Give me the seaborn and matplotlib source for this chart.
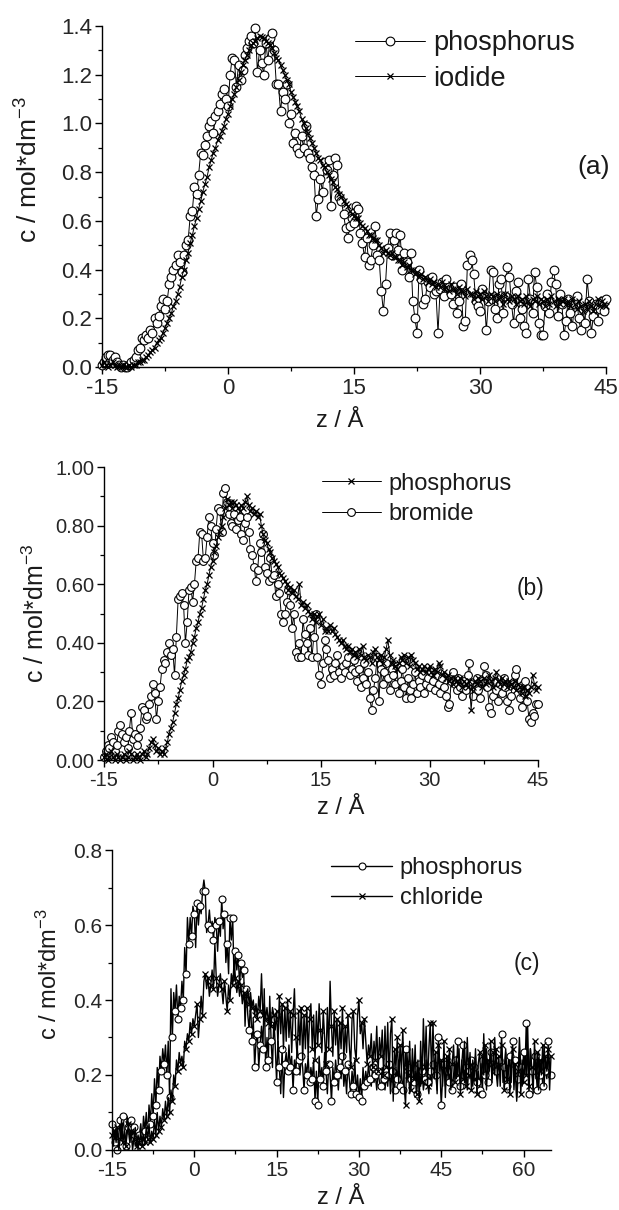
import numpy as np
import matplotlib
matplotlib.use("Agg")
import matplotlib.pyplot as plt
import seaborn as sns
from matplotlib.ticker import MultipleLocator, FormatStrFormatter

# ---------------- data ----------------
# sampling grid of z (Angstrom) for each panel
z_start = -15.0
z_step = 0.25
z_end_ab = 45.0
z_end_c = 65.0

# panel (a)
phosphorus_a = [
    0.01, 0.02, 0.04, 0.05, 0.05, 0.03, 0.04, 0.02, 0.01, 0.00, 0.01, 0.00, 0.00, 0.01, 0.02, 0.03, 0.04, 0.07, 0.08, 0.12,
    0.11, 0.13, 0.12, 0.15, 0.14, 0.20, 0.18, 0.21, 0.25, 0.28, 0.24, 0.27, 0.34, 0.37, 0.40, 0.42, 0.46, 0.43, 0.39, 0.46,
    0.50, 0.52, 0.62, 0.64, 0.74, 0.71, 0.79, 0.88, 0.87, 0.91, 0.95, 0.99, 1.01, 0.96, 1.03, 1.05, 1.08, 1.12, 1.14, 1.10,
    1.07, 1.20, 1.27, 1.26, 1.15, 1.24, 1.18, 1.22, 1.28, 1.31, 1.34, 1.36, 1.33, 1.39, 1.21, 1.30, 1.25, 1.20, 1.33, 1.26,
    1.35, 1.37, 1.30, 1.16, 1.16, 1.05, 1.13, 1.10, 1.16, 1.00, 1.04, 0.92, 0.96, 0.90, 0.88, 0.95, 0.90, 0.99, 0.88, 0.86,
    0.82, 0.79, 0.62, 0.69, 0.77, 0.72, 0.84, 0.81, 0.85, 0.66, 0.79, 0.86, 0.83, 0.70, 0.68, 0.63, 0.57, 0.53, 0.58, 0.61,
    0.59, 0.66, 0.65, 0.55, 0.51, 0.45, 0.53, 0.42, 0.44, 0.50, 0.58, 0.46, 0.44, 0.31, 0.23, 0.34, 0.49, 0.55, 0.46, 0.52,
    0.55, 0.48, 0.54, 0.40, 0.47, 0.43, 0.37, 0.47, 0.27, 0.20, 0.14, 0.40, 0.36, 0.26, 0.28, 0.35, 0.33, 0.37, 0.30, 0.31,
    0.14, 0.32, 0.35, 0.29, 0.36, 0.33, 0.30, 0.26, 0.33, 0.22, 0.27, 0.34, 0.17, 0.19, 0.42, 0.46, 0.44, 0.38, 0.27, 0.25,
    0.23, 0.32, 0.29, 0.15, 0.27, 0.40, 0.39, 0.24, 0.20, 0.34, 0.36, 0.22, 0.29, 0.41, 0.37, 0.26, 0.18, 0.31, 0.35, 0.20,
    0.24, 0.17, 0.14, 0.36, 0.28, 0.22, 0.39, 0.33, 0.18, 0.13, 0.13, 0.25, 0.30, 0.22, 0.35, 0.40, 0.34, 0.21, 0.30, 0.26,
    0.13, 0.19, 0.28, 0.22, 0.17, 0.26, 0.29, 0.20, 0.15, 0.24, 0.18, 0.36, 0.27, 0.14, 0.21, 0.26, 0.19, 0.24, 0.27, 0.23,
    0.28,
]
iodide_a = [
    0.01, 0.02, 0.01, 0.00, 0.01, 0.02, 0.01, 0.00, 0.01, 0.00, 0.01, 0.00, 0.00, 0.01, 0.00, 0.01, 0.01, 0.02, 0.02, 0.03,
    0.03, 0.04, 0.05, 0.06, 0.07, 0.08, 0.10, 0.11, 0.12, 0.14, 0.16, 0.18, 0.20, 0.22, 0.25, 0.27, 0.30, 0.33, 0.37, 0.40,
    0.44, 0.47, 0.51, 0.54, 0.58, 0.61, 0.65, 0.68, 0.72, 0.75, 0.78, 0.82, 0.85, 0.88, 0.90, 0.93, 0.95, 0.97, 0.99, 1.02,
    1.04, 1.07, 1.10, 1.12, 1.15, 1.18, 1.21, 1.24, 1.26, 1.28, 1.30, 1.32, 1.33, 1.34, 1.35, 1.36, 1.355, 1.35, 1.34, 1.33,
    1.32, 1.31, 1.29, 1.27, 1.26, 1.24, 1.22, 1.20, 1.18, 1.16, 1.13, 1.11, 1.09, 1.07, 1.05, 1.02, 1.00, 0.98, 0.96, 0.94,
    0.92, 0.90, 0.88, 0.86, 0.85, 0.83, 0.82, 0.80, 0.79, 0.77, 0.76, 0.74, 0.73, 0.71, 0.70, 0.68, 0.67, 0.66, 0.64, 0.63,
    0.62, 0.61, 0.61, 0.59, 0.58, 0.57, 0.56, 0.54, 0.54, 0.53, 0.52, 0.52, 0.50, 0.49, 0.47, 0.48, 0.47, 0.46, 0.47, 0.45,
    0.45, 0.44, 0.44, 0.42, 0.43, 0.41, 0.42, 0.40, 0.40, 0.38, 0.39, 0.37, 0.38, 0.36, 0.37, 0.35, 0.36, 0.34, 0.35, 0.33,
    0.34, 0.33, 0.35, 0.32, 0.33, 0.31, 0.34, 0.32, 0.32, 0.30, 0.33, 0.31, 0.31, 0.29, 0.32, 0.30, 0.30, 0.28, 0.31, 0.29,
    0.30, 0.28, 0.31, 0.29, 0.27, 0.30, 0.29, 0.27, 0.30, 0.28, 0.29, 0.26, 0.30, 0.28, 0.27, 0.29, 0.28, 0.26, 0.29, 0.27,
    0.28, 0.26, 0.29, 0.27, 0.25, 0.28, 0.27, 0.29, 0.26, 0.28, 0.27, 0.25, 0.28, 0.26, 0.29, 0.27, 0.25, 0.28, 0.26, 0.27,
    0.28, 0.26, 0.27, 0.25, 0.28, 0.26, 0.24, 0.27, 0.25, 0.23, 0.26, 0.24, 0.27, 0.25, 0.23, 0.26, 0.28, 0.25, 0.27, 0.26,
    0.25,
]

# panel (b)
phosphorus_b = [
    0.01, 0.02, 0.00, 0.01, 0.03, 0.01, 0.00, 0.02, 0.01, 0.00, 0.01, 0.02, 0.00, 0.01, 0.03, 0.02, 0.00, 0.01, 0.02, 0.01,
    0.00, 0.02, 0.03, 0.01, 0.02, 0.04, 0.06, 0.07, 0.05, 0.03, 0.04, 0.02, 0.03, 0.02, 0.04, 0.06, 0.09, 0.11, 0.13, 0.16,
    0.19, 0.21, 0.24, 0.27, 0.29, 0.31, 0.34, 0.35, 0.37, 0.40, 0.42, 0.45, 0.47, 0.50, 0.52, 0.55, 0.58, 0.60, 0.63, 0.66,
    0.68, 0.71, 0.73, 0.76, 0.78, 0.80, 0.83, 0.86, 0.89, 0.87, 0.88, 0.86, 0.88, 0.87, 0.86, 0.85, 0.87, 0.86, 0.88, 0.90,
    0.87, 0.85, 0.86, 0.84, 0.85, 0.83, 0.84, 0.80, 0.77, 0.75, 0.74, 0.72, 0.71, 0.69, 0.68, 0.67, 0.66, 0.64, 0.63, 0.62,
    0.61, 0.60, 0.58, 0.59, 0.57, 0.58, 0.56, 0.55, 0.60, 0.53, 0.54, 0.52, 0.53, 0.51, 0.50, 0.48, 0.50, 0.47, 0.49, 0.50,
    0.46, 0.48, 0.44, 0.45, 0.44, 0.46, 0.44, 0.45, 0.43, 0.42, 0.41, 0.40, 0.41, 0.39, 0.38, 0.39, 0.37, 0.38, 0.36, 0.37,
    0.35, 0.38, 0.36, 0.39, 0.35, 0.34, 0.36, 0.35, 0.33, 0.37, 0.38, 0.35, 0.34, 0.36, 0.33, 0.35, 0.38, 0.41, 0.36, 0.33,
    0.34, 0.32, 0.31, 0.33, 0.35, 0.34, 0.36, 0.33, 0.35, 0.32, 0.36, 0.34, 0.33, 0.31, 0.32, 0.30, 0.31, 0.32, 0.30, 0.31,
    0.32, 0.30, 0.29, 0.31, 0.30, 0.33, 0.32, 0.29, 0.30, 0.28, 0.29, 0.27, 0.28, 0.26, 0.28, 0.27, 0.26, 0.28, 0.25, 0.27,
    0.26, 0.25, 0.27, 0.17, 0.25, 0.27, 0.26, 0.28, 0.27, 0.25, 0.28, 0.26, 0.27, 0.29, 0.27, 0.25, 0.28, 0.30, 0.27, 0.26,
    0.28, 0.26, 0.27, 0.25, 0.27, 0.26, 0.25, 0.27, 0.24, 0.26, 0.25, 0.23, 0.25, 0.22, 0.24, 0.23, 0.25, 0.29, 0.26, 0.24,
    0.25,
]
bromide_b = [
    0.01, 0.03, 0.05, 0.04, 0.08, 0.06, 0.03, 0.05, 0.10, 0.12, 0.09, 0.06, 0.08, 0.04, 0.10, 0.16, 0.07, 0.09, 0.05, 0.08,
    0.11, 0.18, 0.17, 0.14, 0.15, 0.19, 0.22, 0.26, 0.23, 0.14, 0.20, 0.25, 0.31, 0.34, 0.33, 0.37, 0.40, 0.36, 0.38, 0.29,
    0.42, 0.55, 0.56, 0.57, 0.53, 0.40, 0.47, 0.58, 0.59, 0.54, 0.60, 0.68, 0.69, 0.78, 0.77, 0.68, 0.69, 0.76, 0.83, 0.80,
    0.74, 0.70, 0.79, 0.86, 0.85, 0.78, 0.91, 0.93, 0.88, 0.84, 0.81, 0.80, 0.84, 0.79, 0.82, 0.83, 0.77, 0.75, 0.81, 0.83,
    0.78, 0.72, 0.70, 0.66, 0.61, 0.65, 0.74, 0.71, 0.77, 0.66, 0.64, 0.61, 0.69, 0.62, 0.63, 0.56, 0.60, 0.57, 0.50, 0.47,
    0.50, 0.54, 0.58, 0.53, 0.45, 0.50, 0.37, 0.35, 0.40, 0.35, 0.48, 0.43, 0.40, 0.36, 0.45, 0.35, 0.42, 0.50, 0.35, 0.29,
    0.26, 0.33, 0.41, 0.38, 0.34, 0.28, 0.31, 0.29, 0.33, 0.36, 0.30, 0.28, 0.32, 0.30, 0.33, 0.35, 0.29, 0.31, 0.34, 0.30,
    0.27, 0.31, 0.25, 0.28, 0.33, 0.26, 0.30, 0.21, 0.17, 0.24, 0.28, 0.35, 0.20, 0.31, 0.26, 0.30, 0.33, 0.28, 0.24, 0.31,
    0.29, 0.26, 0.32, 0.23, 0.27, 0.31, 0.25, 0.21, 0.28, 0.24, 0.21, 0.26, 0.30, 0.23, 0.27, 0.25, 0.29, 0.23, 0.26, 0.28,
    0.25, 0.30, 0.27, 0.24, 0.29, 0.26, 0.23, 0.28, 0.25, 0.22, 0.18, 0.19, 0.27, 0.30, 0.26, 0.24, 0.28, 0.25, 0.22, 0.27,
    0.24, 0.29, 0.33, 0.26, 0.22, 0.25, 0.28, 0.24, 0.21, 0.27, 0.32, 0.29, 0.25, 0.18, 0.16, 0.22, 0.27, 0.24, 0.20, 0.26,
    0.23, 0.28, 0.25, 0.20, 0.17, 0.22, 0.26, 0.29, 0.31, 0.25, 0.21, 0.18, 0.23, 0.27, 0.20, 0.14, 0.13, 0.16, 0.15, 0.19,
    0.19,
]

# panel (c)
phosphorus_c = [
    0.07, 0.05, 0.02, 0.06, 0.00, 0.04, 0.08, 0.03, 0.09, 0.05, 0.01, 0.09, 0.06, 0.02, 0.08, 0.04, 0.06, 0.01, 0.03, 0.00,
    0.04, 0.07, 0.02, 0.09, 0.05, 0.10, 0.03, 0.12, 0.07, 0.15, 0.09, 0.19, 0.12, 0.22, 0.16, 0.25, 0.21, 0.27, 0.23, 0.28,
    0.20, 0.29, 0.14, 0.43, 0.30, 0.42, 0.37, 0.44, 0.35, 0.41, 0.38, 0.45, 0.40, 0.54, 0.47, 0.62, 0.55, 0.62, 0.57, 0.65,
    0.63, 0.54, 0.66, 0.60, 0.65, 0.63, 0.69, 0.72, 0.69, 0.58, 0.60, 0.64, 0.59, 0.61, 0.56, 0.62, 0.60, 0.53, 0.61, 0.57,
    0.67, 0.59, 0.63, 0.50, 0.55, 0.47, 0.62, 0.56, 0.62, 0.45, 0.53, 0.48, 0.52, 0.44, 0.50, 0.46, 0.48, 0.33, 0.43, 0.36,
    0.32, 0.40, 0.29, 0.35, 0.22, 0.29, 0.31, 0.22, 0.28, 0.33, 0.27, 0.43, 0.22, 0.30, 0.24, 0.41, 0.29, 0.22, 0.35, 0.28,
    0.18, 0.29, 0.22, 0.15, 0.27, 0.14, 0.23, 0.26, 0.21, 0.28, 0.22, 0.25, 0.16, 0.24, 0.21, 0.27, 0.24, 0.20, 0.25, 0.22,
    0.16, 0.23, 0.20, 0.25, 0.18, 0.22, 0.19, 0.24, 0.13, 0.21, 0.12, 0.25, 0.19, 0.22, 0.17, 0.26, 0.21, 0.15, 0.23, 0.20,
    0.13, 0.22, 0.18, 0.24, 0.20, 0.16, 0.22, 0.19, 0.25, 0.17, 0.21, 0.15, 0.23, 0.19, 0.15, 0.21, 0.17, 0.24, 0.15, 0.20,
    0.14, 0.19, 0.13, 0.22, 0.17, 0.21, 0.18, 0.23, 0.19, 0.17, 0.22, 0.18, 0.20, 0.16, 0.21, 0.18, 0.17, 0.22, 0.19, 0.16,
    0.20, 0.17, 0.23, 0.15, 0.21, 0.18, 0.16, 0.22, 0.19, 0.24, 0.17, 0.21, 0.16, 0.20, 0.27, 0.18, 0.22, 0.15, 0.19, 0.24,
    0.18, 0.21, 0.15, 0.20, 0.23, 0.17, 0.21, 0.16, 0.19, 0.24, 0.18, 0.15, 0.21, 0.17, 0.23, 0.19, 0.20, 0.16, 0.30, 0.22,
    0.12, 0.19, 0.23, 0.17, 0.21, 0.25, 0.18, 0.22, 0.16, 0.20, 0.24, 0.19, 0.29, 0.21, 0.17, 0.23, 0.28, 0.18, 0.22, 0.16,
    0.21, 0.19, 0.24, 0.17, 0.22, 0.25, 0.18, 0.21, 0.16, 0.23, 0.15, 0.31, 0.20, 0.27, 0.18, 0.22, 0.26, 0.19, 0.23, 0.30,
    0.21, 0.17, 0.24, 0.20, 0.31, 0.18, 0.22, 0.27, 0.17, 0.21, 0.25, 0.18, 0.29, 0.20, 0.24, 0.13, 0.19, 0.30, 0.22, 0.17,
    0.26, 0.20, 0.34, 0.23, 0.15, 0.27, 0.21, 0.18, 0.25, 0.22, 0.16, 0.26, 0.20, 0.24, 0.17, 0.28, 0.21, 0.19, 0.29, 0.22,
    0.20,
]
chloride_c = [
    0.04, 0.01, 0.05, 0.02, 0.06, 0.00, 0.03, 0.08, 0.02, 0.05, 0.01, 0.04, 0.07, 0.02, 0.05, 0.00, 0.03, 0.06, 0.01, 0.04,
    0.02, 0.05, 0.01, 0.04, 0.02, 0.06, 0.03, 0.07, 0.02, 0.05, 0.03, 0.08, 0.04, 0.10, 0.05, 0.09, 0.06, 0.11, 0.08, 0.13,
    0.09, 0.14, 0.10, 0.16, 0.13, 0.20, 0.17, 0.24, 0.21, 0.26, 0.23, 0.25, 0.22, 0.29, 0.27, 0.31, 0.29, 0.34, 0.31, 0.35,
    0.33, 0.36, 0.39, 0.30, 0.35, 0.41, 0.36, 0.45, 0.47, 0.43, 0.46, 0.41, 0.44, 0.48, 0.43, 0.55, 0.46, 0.41, 0.44, 0.47,
    0.43, 0.39, 0.45, 0.41, 0.37, 0.44, 0.40, 0.47, 0.44, 0.50, 0.46, 0.42, 0.45, 0.41, 0.44, 0.39, 0.42, 0.38, 0.41, 0.43,
    0.39, 0.42, 0.38, 0.40, 0.36, 0.39, 0.35, 0.41, 0.37, 0.47, 0.36, 0.39, 0.35, 0.38, 0.34, 0.37, 0.33, 0.38, 0.36, 0.32,
    0.37, 0.28, 0.41, 0.31, 0.39, 0.27, 0.38, 0.29, 0.40, 0.30, 0.37, 0.26, 0.36, 0.43, 0.30, 0.25, 0.37, 0.28, 0.38, 0.24,
    0.36, 0.27, 0.38, 0.25, 0.35, 0.39, 0.27, 0.36, 0.24, 0.37, 0.28, 0.39, 0.32, 0.26, 0.37, 0.30, 0.23, 0.38, 0.27, 0.45,
    0.33, 0.25, 0.37, 0.28, 0.35, 0.23, 0.34, 0.27, 0.38, 0.24, 0.33, 0.26, 0.36, 0.28, 0.22, 0.35, 0.37, 0.27, 0.24, 0.36,
    0.40, 0.31, 0.34, 0.27, 0.35, 0.29, 0.23, 0.28, 0.25, 0.31, 0.22, 0.29, 0.24, 0.33, 0.21, 0.30, 0.25, 0.32, 0.20, 0.33,
    0.22, 0.34, 0.19, 0.31, 0.35, 0.13, 0.27, 0.22, 0.30, 0.18, 0.28, 0.21, 0.32, 0.17, 0.12, 0.26, 0.20, 0.29, 0.16, 0.27,
    0.19, 0.28, 0.15, 0.24, 0.13, 0.29, 0.18, 0.35, 0.22, 0.33, 0.17, 0.27, 0.34, 0.20, 0.34, 0.19, 0.26, 0.15, 0.28, 0.21,
    0.24, 0.17, 0.29, 0.14, 0.25, 0.19, 0.27, 0.16, 0.23, 0.28, 0.18, 0.25, 0.20, 0.27, 0.15, 0.24, 0.19, 0.29, 0.17, 0.30,
    0.20, 0.26, 0.16, 0.24, 0.19, 0.27, 0.15, 0.23, 0.26, 0.18, 0.25, 0.20, 0.28, 0.16, 0.24, 0.21, 0.29, 0.18, 0.26, 0.20,
    0.27, 0.19, 0.25, 0.17, 0.28, 0.22, 0.16, 0.26, 0.19, 0.24, 0.15, 0.22, 0.27, 0.16, 0.23, 0.14, 0.21, 0.26, 0.15, 0.24,
    0.18, 0.25, 0.20, 0.33, 0.17, 0.27, 0.22, 0.15, 0.29, 0.19, 0.26, 0.16, 0.24, 0.20, 0.28, 0.17, 0.25, 0.21, 0.27, 0.16,
    0.25,
]

y_label = r"c / mol*dm$^{\mathregular{-3}}$"
x_label = "z / Å"

# ---------------- style ----------------
sns.set_theme(style="ticks")
plt.rcParams["font.family"] = ["Liberation Sans", "DejaVu Sans"]
plt.rcParams["mathtext.fontset"] = "custom"
plt.rcParams["mathtext.rm"] = "Liberation Sans"
plt.rcParams["mathtext.it"] = "Liberation Sans:italic"
plt.rcParams["mathtext.bf"] = "Liberation Sans:bold"
plt.rcParams["axes.unicode_minus"] = False
plt.rcParams["text.color"] = "#1a1a1a"
plt.rcParams["axes.labelcolor"] = "#1a1a1a"

fig = plt.figure(figsize=(6.19, 12.10), dpi=100)
fig.patch.set_facecolor("white")


def grid(stop):
    return np.arange(z_start, stop + z_step / 2, z_step)


def draw_series(ax, z, vals, label, marker, ms, every, lw=0.7, mew=0.8):
    assert len(z) == len(vals), (label, len(z), len(vals))
    sns.lineplot(
        x=z, y=vals, ax=ax, color="black", linewidth=lw, label=label,
        marker=marker, markersize=ms, markevery=every,
        markerfacecolor="white", markeredgecolor="black", markeredgewidth=mew,
        estimator=None, errorbar=None, sort=False, clip_on=False,
    )


def style_axes(ax, xmax, ymax, ystep, yfmt, tick_fs, xlab_pos, ylab_pos, xlab_fs, ylab_fs):
    ax.set_xlim(z_start, xmax)
    ax.set_ylim(0, ymax)
    ax.xaxis.set_major_locator(MultipleLocator(15))
    ax.xaxis.set_minor_locator(MultipleLocator(7.5))
    ax.yaxis.set_major_locator(MultipleLocator(ystep))
    ax.yaxis.set_minor_locator(MultipleLocator(ystep / 2))
    ax.yaxis.set_major_formatter(FormatStrFormatter(yfmt))
    sns.despine(ax=ax)
    for s in ("left", "bottom"):
        ax.spines[s].set_linewidth(1.0)
        ax.spines[s].set_color("black")
    ax.tick_params(which="major", direction="out", length=5, width=1.0,
                   labelsize=tick_fs, color="black")
    ax.tick_params(which="minor", direction="out", length=3, width=0.9, color="black")
    ax.tick_params(axis="x", which="major", pad=3)
    ax.tick_params(axis="y", which="major", pad=2)
    ax.set_xlabel(x_label, fontsize=xlab_fs)
    ax.set_ylabel(y_label, fontsize=ylab_fs)
    ax.xaxis.set_label_coords(*xlab_pos)
    ax.yaxis.set_label_coords(*ylab_pos)
    ax.set_facecolor("white")


def add_legend(ax, order, anchor, fs, hl, htp):
    handles, labels = ax.get_legend_handles_labels()
    idx = [labels.index(o) for o in order]
    ax.legend([handles[i] for i in idx], [labels[i] for i in idx],
              loc="center left", bbox_to_anchor=anchor, frameon=False,
              fontsize=fs, handlelength=hl, handletextpad=htp,
              labelspacing=0.35, borderaxespad=0, borderpad=0, numpoints=1)


# ---------------- panel (a) ----------------
ax_a = fig.add_axes([0.1648, 0.6967, 0.8142, 0.2818])
z_ab = grid(z_end_ab)
draw_series(ax_a, z_ab, phosphorus_a, "phosphorus", "o", 6.3, 1)
draw_series(ax_a, z_ab, iodide_a, "iodide", "x", 5.0, 1, mew=0.9)
style_axes(ax_a, z_end_ab, 1.4, 0.2, "%.1f", 16, (0.472, -0.125), (-0.118, 0.58), 17, 19)
add_legend(ax_a, ["phosphorus", "iodide"], (0.502, 0.897), 19.5, 2.6, 0.3)
ax_a.text(0.976, 0.587, "(a)", transform=ax_a.transAxes, ha="center", va="center", fontsize=19)

# ---------------- panel (b) ----------------
ax_b = fig.add_axes([0.168, 0.3719, 0.7012, 0.2421])
draw_series(ax_b, z_ab, bromide_b, "bromide", "o", 5.6, 1)
draw_series(ax_b, z_ab, phosphorus_b, "phosphorus", "x", 5.0, 1, mew=0.9)
style_axes(ax_b, z_end_ab, 1.0, 0.2, "%.2f", 14.5, (0.546, -0.125), (-0.127, 0.5), 17, 18)
add_legend(ax_b, ["phosphorus", "bromide"], (0.502, 0.892), 17, 2.5, 0.34)
ax_b.text(0.982, 0.587, "(b)", transform=ax_b.transAxes, ha="center", va="center", fontsize=16.5)

# ---------------- panel (c) ----------------
ax_c = fig.add_axes([0.1809, 0.0496, 0.7092, 0.2479])
z_c = grid(z_end_c)
draw_series(ax_c, z_c, phosphorus_c, "phosphorus", "o", 5.0, 2, lw=1.0)
draw_series(ax_c, z_c, chloride_c, "chloride", "x", 4.8, 2, lw=1.0, mew=0.9)
style_axes(ax_c, z_end_c, 0.8, 0.2, "%.1f", 15, (0.52, -0.125), (-0.114, 0.587), 17, 17)
add_legend(ax_c, ["phosphorus", "chloride"], (0.499, 0.89), 17, 2.6, 0.3)
ax_c.text(0.945, 0.623, "(c)", transform=ax_c.transAxes, ha="center", va="center", fontsize=16.5)

fig.savefig("out.png", dpi=100, facecolor="white")
